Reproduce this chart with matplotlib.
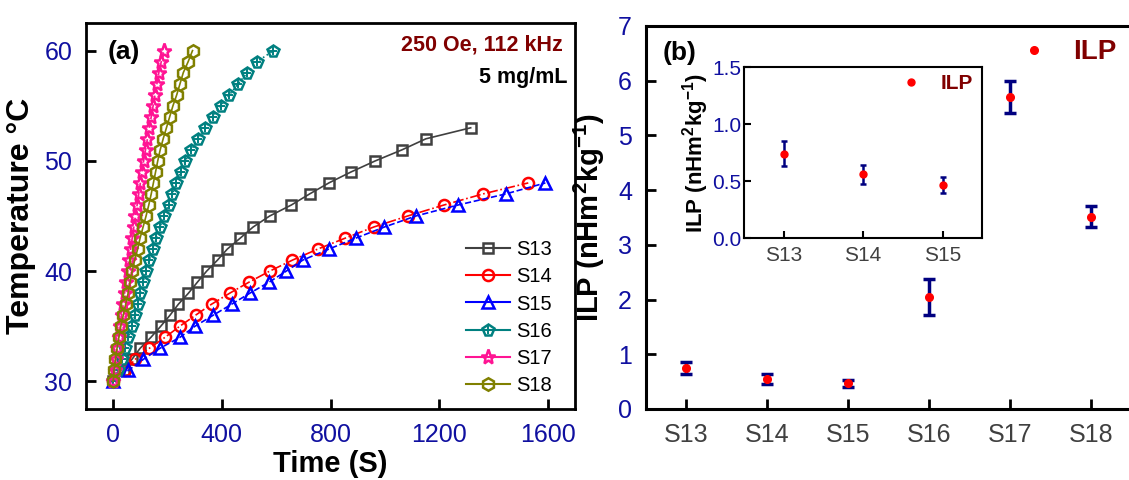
import matplotlib
matplotlib.use("Agg")
import matplotlib.pyplot as plt
from matplotlib.lines import Line2D
from matplotlib.legend_handler import HandlerTuple

plt.rcParams['font.family'] = ['Liberation Sans', 'DejaVu Sans']
plt.rcParams['mathtext.fontset'] = 'custom'
plt.rcParams['mathtext.rm'] = 'Liberation Sans:bold'
plt.rcParams['mathtext.bf'] = 'Liberation Sans:bold'
plt.rcParams['mathtext.default'] = 'bf'

# ---- panel (a): heating curves, time to reach each temperature ----
temp13 = list(range(30, 54))
time13 = [0, 40, 69, 99, 139, 175, 209, 240, 277, 310, 344, 384, 420, 468,
          515, 576, 656, 723, 794, 876, 965, 1063, 1151, 1316]
temp14 = list(range(30, 49))
time14 = [0, 45, 81, 133, 191, 245, 303, 362, 429, 500, 576, 660, 753, 855,
          959, 1084, 1218, 1361, 1528]
temp15 = list(range(30, 49))
time15 = [0, 56, 111, 172, 246, 301, 368, 436, 503, 574, 637, 698, 794, 894,
          998, 1114, 1270, 1445, 1591]
temp16 = list(range(30, 61))
time16 = [0, 18, 32, 44, 56, 68, 80, 90, 100, 110, 120, 133, 146, 159, 172,
          188, 204, 218, 232, 248, 266, 288, 312, 338, 366, 396, 428, 460,
          494, 530, 590]
temp17 = list(range(30, 61))
time17 = [0, 5, 10, 15, 20, 26, 31, 37, 42, 48, 53, 59, 64, 70, 76, 82, 88,
          94, 100, 106, 112, 119, 126, 133, 140, 147, 154, 161, 168, 177, 186]
temp18 = list(range(30, 61))
time18 = [0, 3, 8, 14, 21, 28, 37, 46, 55, 62, 70, 79, 90, 99, 110, 121, 131,
          140, 148, 156, 164, 173, 184, 196, 208, 220, 234, 246, 258, 276, 292]

# ---- panel (b): ILP values ----
samples = ['S13', 'S14', 'S15', 'S16', 'S17', 'S18']
ilp = [0.74, 0.55, 0.47, 2.04, 5.70, 3.51]
ilp_err = [0.11, 0.09, 0.065, 0.33, 0.29, 0.19]
inset_samples = ['S13', 'S14', 'S15']
inset_ilp = [0.74, 0.56, 0.47]
inset_err = [0.11, 0.085, 0.07]

navy = '#1010a0'
darkred = '#800000'

fig = plt.figure(figsize=(11.29, 4.8), dpi=100)
ax1 = fig.add_axes([0.0762, 0.148, 0.4331, 0.804])
ax2 = fig.add_axes([0.5722, 0.148, 0.4300, 0.798])
axin = fig.add_axes([0.659, 0.504, 0.211, 0.356])

series = [
    (time13, temp13, 'S13', '#404040', '-', 's', 7),
    (time14, temp14, 'S14', '#ff0000', '-.', 'o', 8),
    (time15, temp15, 'S15', '#0000ff', '--', '^', 8.5),
    (time16, temp16, 'S16', '#008080', ':', 'p', 8.5),
    (time17, temp17, 'S17', '#ff1493', '--', '*', 11),
    (time18, temp18, 'S18', '#808000', '-', 'h', 9),
]
handles = []
for t, T, lab, c, ls, mk, ms in series:
    ax1.plot(t, T, ls=ls, lw=1.2, color=c, marker=mk, ms=ms,
             mfc='none', mec=c, mew=1.8)
    proxy = Line2D([], [], ls='-', lw=1.5, color=c, marker=mk, ms=ms,
                   mfc='none', mec=c, mew=1.8)
    if lab == 'S16':
        ax1.plot(t, T, ls='none', marker='+', ms=6, mec=c, mew=1.4)
        plus = Line2D([], [], ls='none', marker='+', ms=6, mec=c, mew=1.4)
        handles.append((proxy, plus))
    else:
        handles.append(proxy)

ax1.set_xlim(-100, 1700)
ax1.set_ylim(27.5, 62.5)
ax1.set_xticks([0, 400, 800, 1200, 1600])
ax1.set_yticks([30, 40, 50, 60])
ax1.set_xlabel('Time (S)', fontsize=21, fontweight='bold', labelpad=2)
ax1.set_ylabel('Temperature °C', fontsize=23, fontweight='bold', labelpad=6)
ax1.tick_params(direction='in', length=7, width=2, labelsize=18,
                labelcolor=navy, pad=10)
for s in ax1.spines.values():
    s.set_linewidth(2)
ax1.legend(handles, [s[2] for s in series], loc='lower right',
           bbox_to_anchor=(0.99, -0.01), frameon=False, fontsize=14.5,
           handlelength=2.2, handletextpad=0.3, labelspacing=0.4,
           handler_map={tuple: HandlerTuple(ndivide=1, pad=0)})
ax1.text(0.045, 0.955, '(a)', transform=ax1.transAxes, fontsize=19,
         fontweight='bold', va='top')
ax1.text(0.975, 0.97, '250 Oe, 112 kHz', transform=ax1.transAxes,
         fontsize=15.5, fontweight='bold', color=darkred, ha='right', va='top')
ax1.text(0.985, 0.885, '5 mg/mL', transform=ax1.transAxes, fontsize=15.5,
         fontweight='bold', ha='right', va='top')

# main ILP panel
x = list(range(1, len(samples) + 1))
ax2.errorbar(x, ilp, yerr=ilp_err, fmt='none', ecolor='#000080', elinewidth=2.5,
             capsize=4.5, capthick=2.5)
ax2.plot(x, ilp, ls='none', marker='o', ms=5.5, color='#ff0000', label='ILP')
ax2.set_xlim(0.5, 6.5)
ax2.set_ylim(0, 7)
ax2.set_xticks(x)
ax2.set_xticklabels(samples)
ax2.set_yticks(range(0, 8))
ax2.tick_params(direction='in', length=7, width=2, pad=10)
ax2.tick_params(axis='y', labelsize=18, labelcolor=navy)
ax2.tick_params(axis='x', labelsize=18, labelcolor='#404040')
for s in ax2.spines.values():
    s.set_linewidth(2.2)
ax2.set_ylabel(r'ILP (nHm$^{2}$kg$^{-1}$)', fontsize=21, fontweight='bold',
               labelpad=8)
ax2.legend(loc='upper right', bbox_to_anchor=(1.02, 1.03), frameon=False,
           prop={'size': 20, 'weight': 'bold'}, labelcolor=darkred,
           handlelength=1.0, handletextpad=0.9)
ax2.text(0.035, 0.96, '(b)', transform=ax2.transAxes, fontsize=19,
         fontweight='bold', va='top')

# inset
xi = list(range(1, len(inset_samples) + 1))
axin.errorbar(xi, inset_ilp, yerr=inset_err, fmt='none', ecolor='#000080',
              elinewidth=1.8, capsize=2.5, capthick=1.8)
axin.plot(xi, inset_ilp, ls='none', marker='o', ms=5, color='#ff0000',
          label='ILP')
axin.set_xlim(0.5, 3.5)
axin.set_ylim(0, 1.5)
axin.set_xticks(xi)
axin.set_xticklabels(inset_samples)
axin.set_yticks([0, 0.5, 1.0, 1.5])
axin.set_yticklabels(['0.0', '0.5', '1.0', '1.5'])
axin.tick_params(direction='in', length=5, width=1.5, pad=6)
axin.tick_params(axis='y', labelsize=15, labelcolor=navy, pad=2)
axin.tick_params(axis='x', labelsize=15, labelcolor='#404040')
for s in axin.spines.values():
    s.set_linewidth(1.5)
axin.set_ylabel(r'ILP (nHm$^{2}$kg$^{-1}$)', fontsize=16, fontweight='bold',
                labelpad=1)
axin.legend(loc='upper right', bbox_to_anchor=(1.04, 1.07), frameon=False,
            prop={'size': 15, 'weight': 'bold'}, labelcolor=darkred,
            handlelength=1.0, handletextpad=0.9)

fig.savefig('out.png', dpi=100)
